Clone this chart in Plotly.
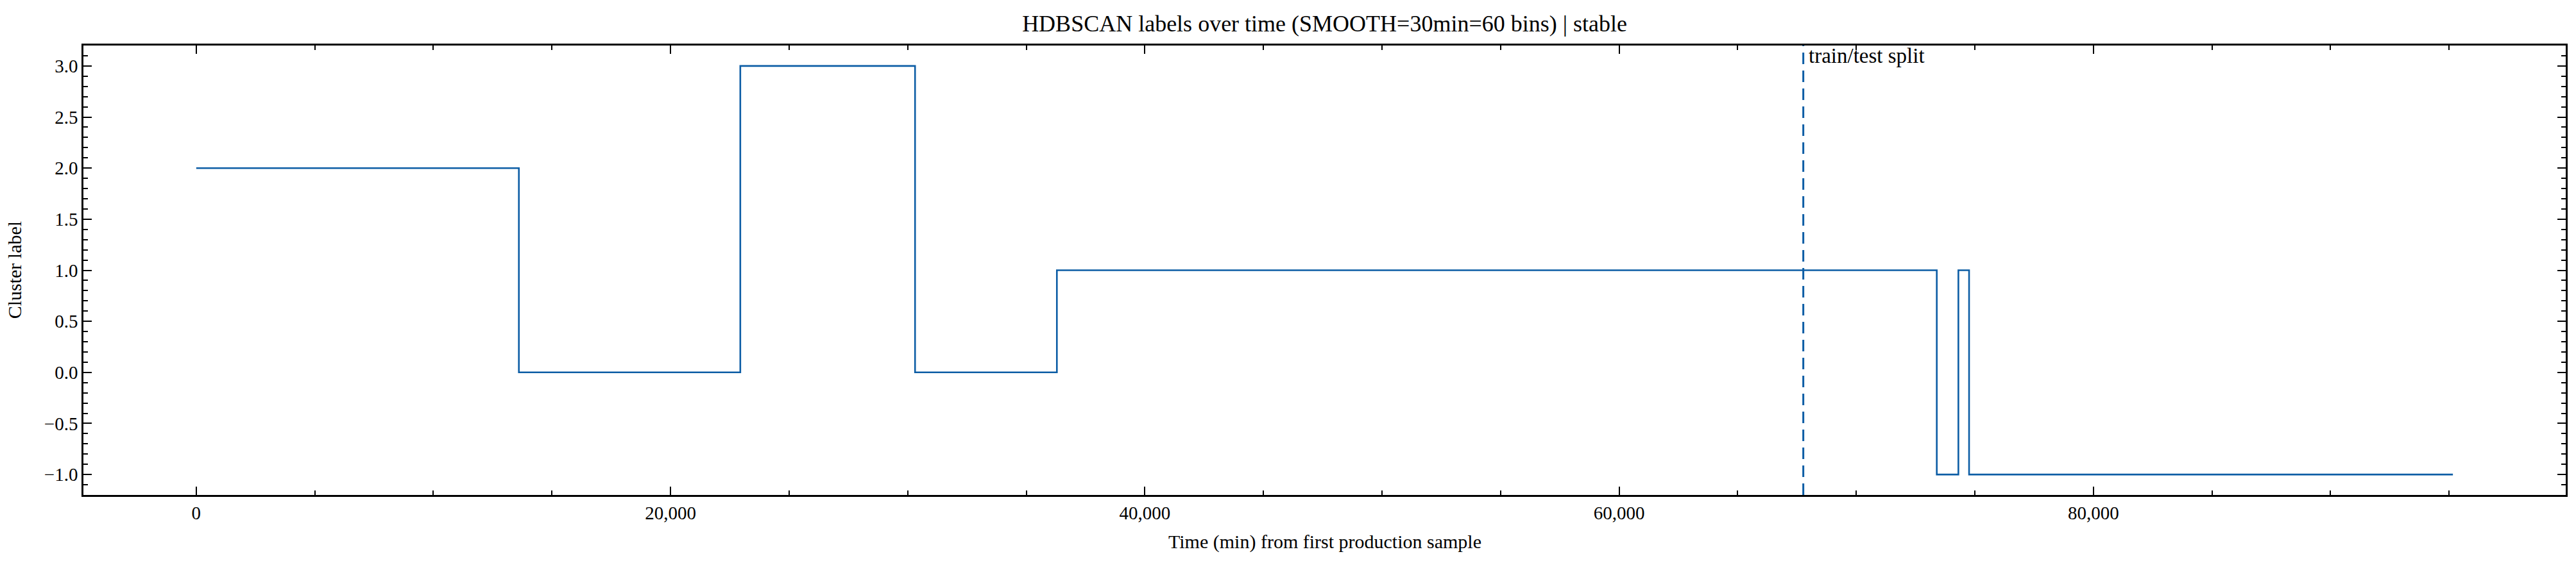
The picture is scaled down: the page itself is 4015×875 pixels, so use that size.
import plotly.graph_objects as go

# Segment start times (min) and the HDBSCAN label held from each start
seg_start = [0, 13605, 22942, 30311, 36292, 73396, 74307, 74758]
seg_label = [2, 0, 3, 0, 1, -1, 1, -1]
t_end = 95160

split_t = 67767

x_ticks = [0, 20000, 40000, 60000, 80000]
y_ticks = [-1.0, -0.5, 0.0, 0.5, 1.0, 1.5, 2.0, 2.5, 3.0]

# step line: repeat the last label up to the final sample time
x_vals = seg_start + [t_end]
y_vals = seg_label + [seg_label[-1]]

font_family = "Liberation Serif, Times New Roman, serif"

fig = go.Figure()

fig.add_trace(go.Scatter(
    x=x_vals,
    y=y_vals,
    mode='lines',
    line=dict(color='#0C5DA5', width=2.6, shape='hv'),
    showlegend=False,
))

# train/test split marker
fig.add_vline(
    x=split_t,
    line=dict(color='#0C5DA5', width=3, dash='18px,10px'),
)
fig.add_annotation(
    x=split_t, y=1, xref='x', yref='paper',
    text='train/test split',
    showarrow=False,
    xanchor='left', yanchor='top',
    xshift=6, yshift=4,
    font=dict(family=font_family, size=33, color='black'),
)

# axis titles placed as annotations for exact positioning
fig.add_annotation(
    x=-0.0277, y=0.5, xref='paper', yref='paper',
    text='Cluster label', textangle=-90,
    showarrow=False, xanchor='center', yanchor='middle',
    font=dict(family=font_family, size=30, color='black'),
)
fig.add_annotation(
    x=0.5, y=-0.104, xref='paper', yref='paper',
    text='Time (min) from first production sample',
    showarrow=False, xanchor='center', yanchor='middle',
    font=dict(family=font_family, size=30, color='black'),
)

axis_common = dict(
    showline=True,
    linecolor='black',
    linewidth=2.5,
    mirror='allticks',
    ticks='inside',
    tickwidth=2,
    tickcolor='black',
    ticklen=13,
    showgrid=False,
    zeroline=False,
    tickfont=dict(family=font_family, size=29, color='black'),
)

fig.update_layout(
    width=4015,
    height=875,
    margin=dict(l=130, r=16, t=71, b=103),
    paper_bgcolor='white',
    plot_bgcolor='white',
    font=dict(family=font_family, size=29, color='black'),
    title=dict(
        text='HDBSCAN labels over time (SMOOTH=30min=60 bins) | stable',
        x=0.5, xref='paper', xanchor='center',
        y=1 - 36 / 875, yanchor='middle',
        font=dict(family=font_family, size=36, color='black'),
    ),
    xaxis=dict(
        axis_common,
        range=[-4758, 99918],
        tickvals=x_ticks,
        tickformat=',d',
        minor=dict(dtick=5000, ticks='inside', ticklen=7, tickwidth=1.5, tickcolor='black'),
    ),
    yaxis=dict(
        axis_common,
        range=[-1.2, 3.2],
        tickvals=y_ticks,
        tickformat='.1f',
        minor=dict(dtick=0.1, ticks='inside', ticklen=7, tickwidth=1.5, tickcolor='black'),
    ),
)

fig.write_html("out.html", config={'displayModeBar': False},
               post_script="document.body.style.margin='0';")
